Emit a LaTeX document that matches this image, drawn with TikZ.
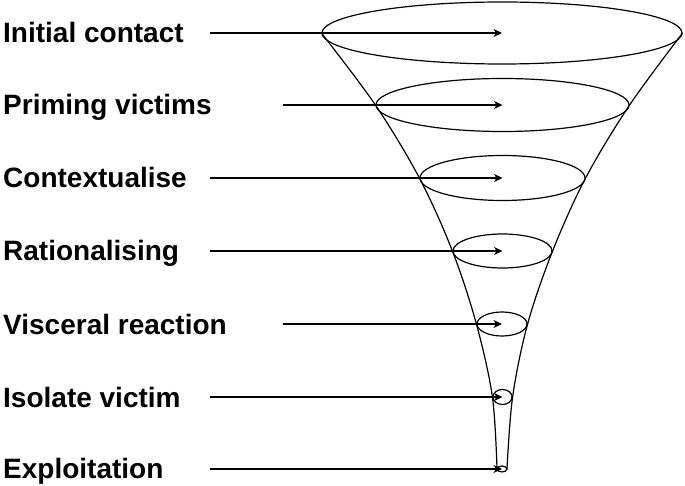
\documentclass[tikz,border=0pt]{standalone}
\usepackage{fontspec}
\setmainfont{Liberation Sans}
\usetikzlibrary{arrows.meta,shapes.geometric}
\begin{document}
\begin{tikzpicture}[x=1pt,y=-1pt,
  lbl/.style={anchor=base west,inner sep=0pt,font=\bfseries\fontsize{28}{31}\selectfont},
  ring/.style={draw,ellipse,inner sep=0pt,line width=1.2pt},
  pointer/.style={line width=1.1pt,-{Stealth[length=8.5pt,width=8pt,inset=2.5pt]}},
  side/.style={line width=1.2pt}]
\useasboundingbox (0,0) rectangle (685,486);
% rings
\node[ring,minimum width=360pt,minimum height=62pt] (e1) at (502,33) {};
\node[ring,minimum width=253pt,minimum height=53pt] (e2) at (502.5,105) {};
\node[ring,minimum width=165pt,minimum height=45pt] (e3) at (502.5,178) {};
\node[ring,minimum width=99pt,minimum height=34pt] (e4) at (502.5,251) {};
\node[ring,minimum width=50pt,minimum height=24pt] (e5) at (502,324) {};
\node[ring,minimum width=19pt,minimum height=15pt] (e6) at (502.5,397) {};
\node[ring,minimum width=10pt,minimum height=6pt] (e7) at (502,469) {};
% funnel sides
\draw[side] plot[smooth,tension=0.55] coordinates {(e1.west) (e2.west) (e3.west) (e4.west) (e5.west) (e6.west) (497,469)};
\draw[side] plot[smooth,tension=0.55] coordinates {(e1.east) (e2.east) (e3.east) (e4.east) (e5.east) (e6.east) (507,469)};
% labels
\node[lbl] (l1) at (3,43) {Initial contact};
\node[lbl] (l2) at (3,115) {Priming victims};
\node[lbl] (l3) at (3,188) {Contextualise};
\node[lbl] (l4) at (3,261) {Rationalising};
\node[lbl] (l5) at (3,334) {Visceral reaction};
\node[lbl] (l6) at (3,407) {Isolate victim};
\node[lbl] (l7) at (3,478) {Exploitation};
% arrow starts
\coordinate (s1) at (210,33);
\coordinate (s2) at (283,105);
\coordinate (s3) at (210,178);
\coordinate (s4) at (210,251);
\coordinate (s5) at (283,324);
\coordinate (s6) at (210,397);
\coordinate (s7) at (210,469);
\draw[pointer] (s1) -- (e1.center);
\draw[pointer] (s2) -- (e2.center);
\draw[pointer] (s3) -- (e3.center);
\draw[pointer] (s4) -- (e4.center);
\draw[pointer] (s5) -- (e5.center);
\draw[pointer] (s6) -- (e6.center);
\draw[pointer] (s7) -- (e7.center);
\end{tikzpicture}
\end{document}
